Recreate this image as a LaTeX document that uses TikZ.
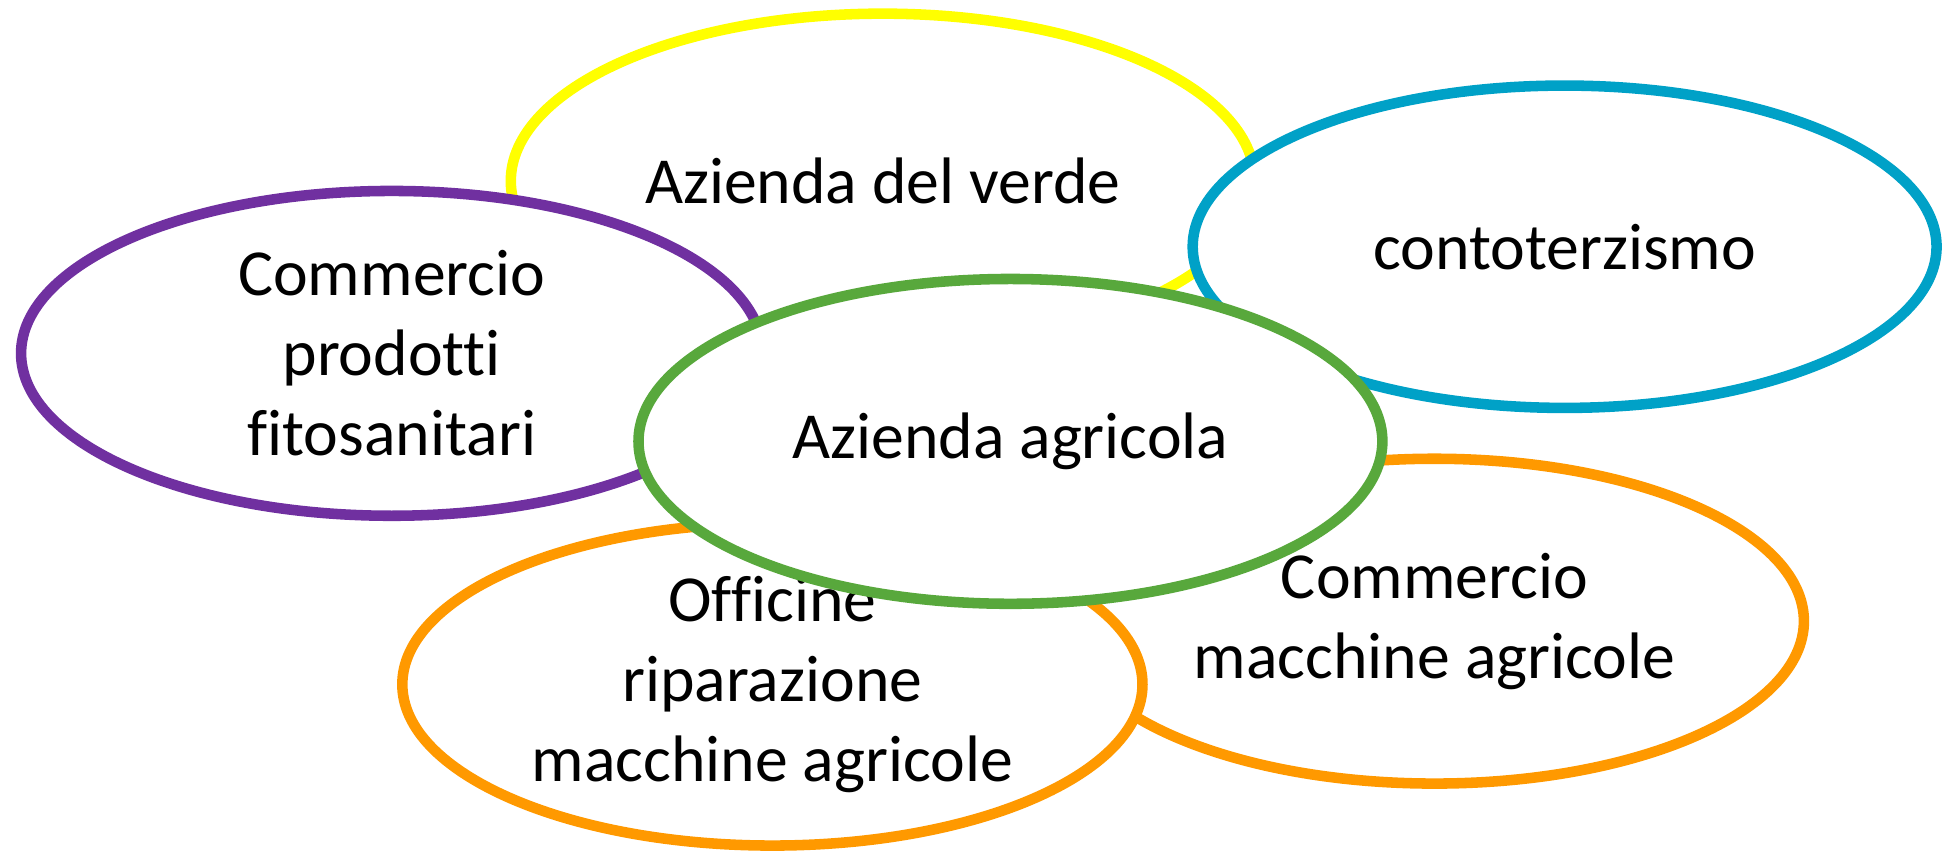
\documentclass[tikz,border=0pt]{standalone}
\usepackage{fontspec}
\setmainfont{Carlito}[Ligatures=NoCommon]
\usetikzlibrary{shapes.geometric}
\definecolor{cyel}{RGB}{255,255,0}
\definecolor{cblue}{RGB}{0,161,199}
\definecolor{cpurple}{RGB}{112,48,160}
\definecolor{cgreen}{RGB}{88,168,60}
\definecolor{corange}{RGB}{255,153,0}
\tikzset{
  ell/.style={ellipse, draw=#1, line width=3pt, fill=white, inner sep=0pt,
    align=center, font=\fontsize{18.7}{22.8}\selectfont,
    minimum width=600*0.3527pt, minimum height=262*0.3527pt}
}
\begin{document}
\begin{tikzpicture}[x=0.3527pt, y=-0.3527pt]
\useasboundingbox (0,0) rectangle (1568,688);
\node[ell=cyel, minimum height=270*0.3527pt] (verde) at (712,146) {Azienda del verde};
\node[ell=cblue, minimum height=260*0.3527pt] (conto) at (1262,199) {contoterzismo};
\node[ell=cpurple, minimum width=598*0.3527pt] (fito) at (316,285) {Commercio\\prodotti\\fitosanitari};
\node[ell=corange, minimum width=596*0.3527pt] (commacc) at (1157,501) {Commercio\\macchine agricole};
\node[ell=corange, minimum width=597*0.3527pt, minimum height=260*0.3527pt] (officine) at (623,552) {Officine\\riparazione\\macchine agricole};
\node[ell=cgreen] (agricola) at (815,356) {Azienda agricola};
\end{tikzpicture}
\end{document}
